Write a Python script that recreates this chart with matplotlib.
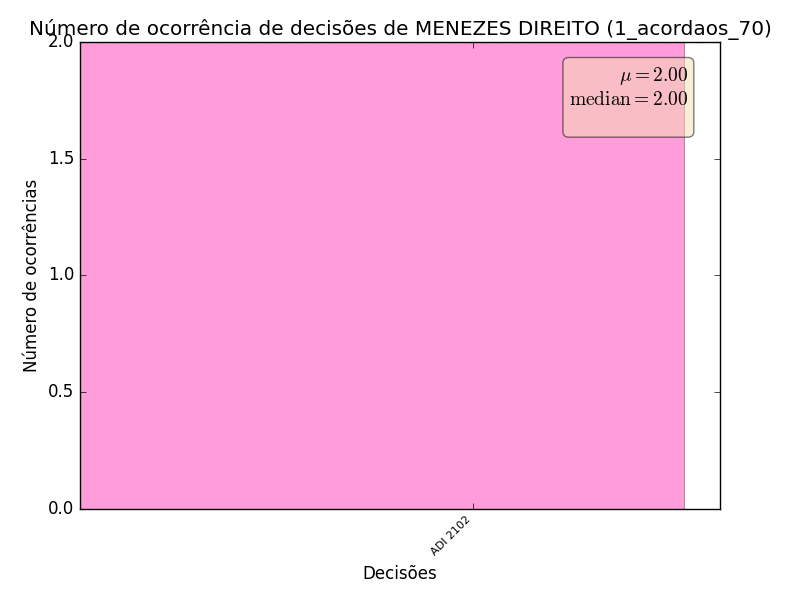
import numpy as np
import matplotlib
matplotlib.use('Agg')
import matplotlib.pyplot as plt

plt.style.use('classic')

decisoes = ['ADI 2102']
ocorrencias = [2]
bar_left = [0.0]
bar_width = 1.0
tick_pos = [0.65]

mu = np.mean(ocorrencias)
median = np.median(ocorrencias)

fig = plt.figure(figsize=(8, 6), dpi=100)
ax = fig.add_subplot(111)
plt.subplots_adjust(left=0.1, right=0.9, bottom=0.152, top=0.93)

ax.bar(bar_left, ocorrencias, width=bar_width, align='edge', color='#ff69c8',
       alpha=0.65, edgecolor='#555555', linewidth=0.6)
ax.axhline(mu, color='red', linestyle='--', linewidth=1.5)
ax.axhline(median, color='green', linestyle=':', linewidth=1.5)

ax.set_xlim(0, 1.0596)
ax.set_ylim(0, 2)
ax.set_yticks([0.0, 0.5, 1.0, 1.5, 2.0])
ax.set_xticks(tick_pos)
ax.set_xticklabels(decisoes, rotation=45, ha='right', fontsize=8)

ax.set_title('Número de ocorrência de decisões de MENEZES DIREITO (1_acordaos_70)')
ax.set_xlabel('Decisões')
ax.set_ylabel('Número de ocorrências')

# terceira linha vazia, como no original
textstr = '\n'.join((r'$\mu=%.2f$' % mu, r'$\mathrm{median}=%.2f$' % median, ' '))
props = dict(boxstyle='round', facecolor='wheat', alpha=0.5)
ax.text(0.95, 0.95, textstr, transform=ax.transAxes, fontsize=14,
        verticalalignment='top', horizontalalignment='right', bbox=props)

fig.savefig('out.png', dpi=100)
